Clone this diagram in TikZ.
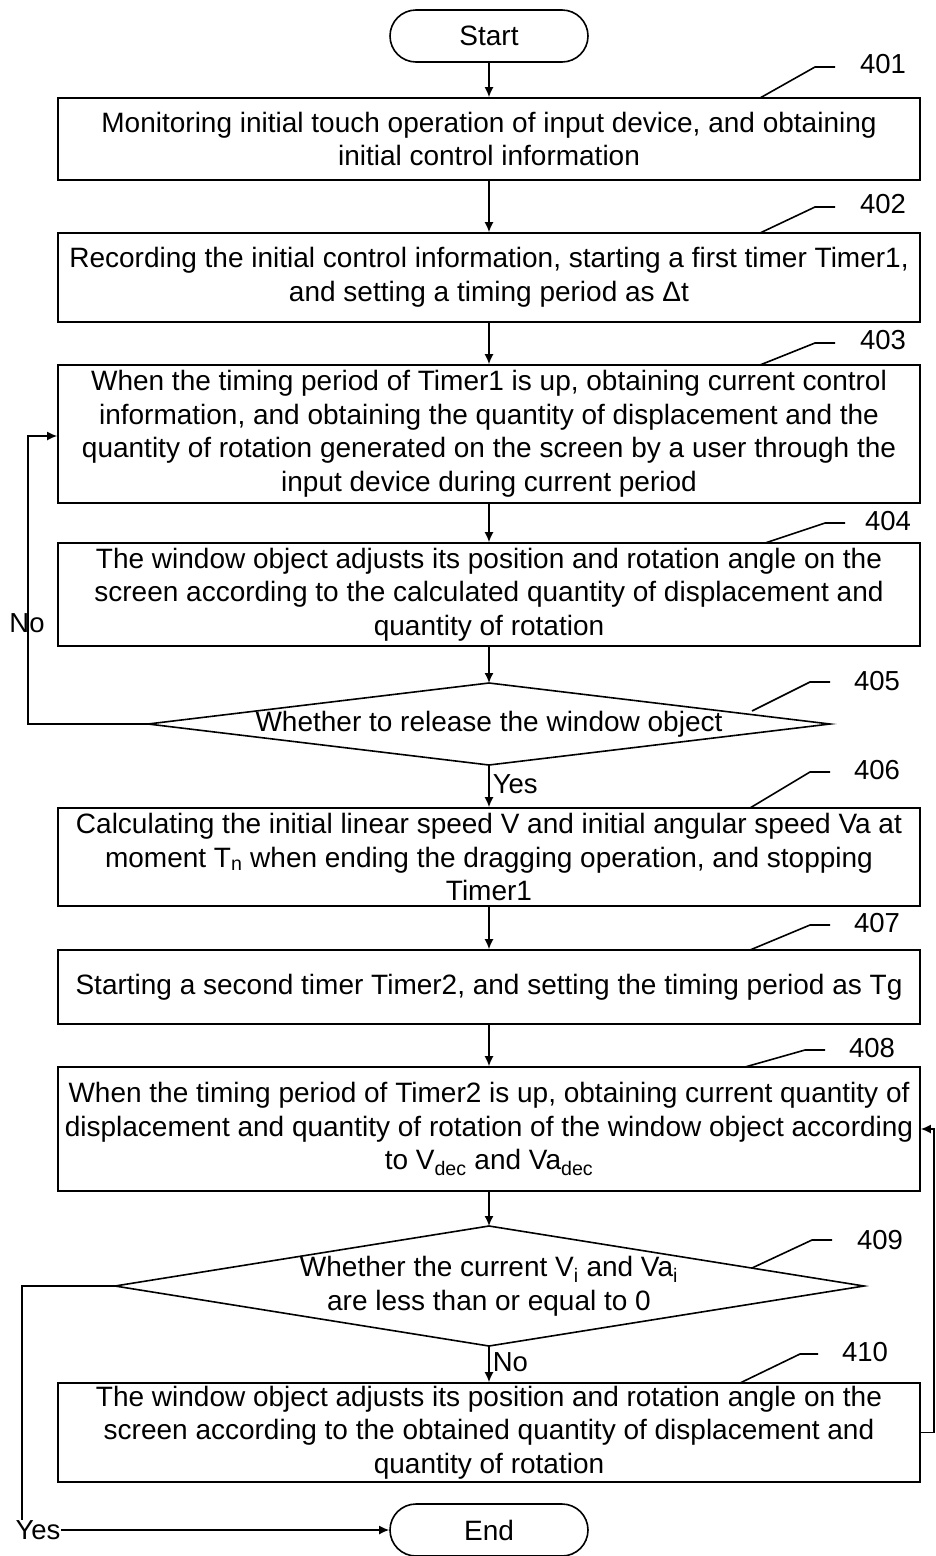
\documentclass[tikz,border=0pt]{standalone}
\usepackage{fontspec}
\setmainfont{Liberation Sans}
\usetikzlibrary{arrows.meta}
\begin{document}
\begin{tikzpicture}[x=1pt,y=-1pt,
  line width=1.6pt,
  txt/.style={font=\fontsize{28}{33.5}\selectfont, align=center, inner sep=0pt},
  box/.style={txt, draw, minimum width=862pt},
  term/.style={txt, draw, rounded corners=26pt, minimum width=198pt, minimum height=52pt},
  lbl/.style={font=\fontsize{27.5}{30}\selectfont, inner sep=0pt},
  arr/.style={-{Latex[length=10pt,width=9pt]}},
  lead/.style={line width=1.6pt}]
\useasboundingbox (0,0) rectangle (935,1556);

\node[term] (start) at (489,36) {Start};
\node[box, minimum height=82pt] (b401) at (489,139) {Monitoring initial touch operation of input device, and obtaining\\initial control information};
\node[box, minimum height=89pt] (b402) at (489,277.5) {Recording the initial control information, starting a first timer Timer1,\\and setting a timing period as Δt};
\node[box, minimum height=138pt] (b403) at (489,434) {When the timing period of Timer1 is up, obtaining current control\\information, and obtaining the quantity of displacement and the\\quantity of rotation generated on the screen by a user through the\\input device during current period};
\node[box, minimum height=103pt] (b404) at (489,594.5) {The window object adjusts its position and rotation angle on the\\screen according to the calculated quantity of displacement and\\quantity of rotation};

% diamond 405
\coordinate (d405n) at (489,683);
\coordinate (d405e) at (830,724);
\coordinate (d405s) at (489,765);
\coordinate (d405w) at (148,724);
\draw (d405n) -- (d405e) -- (d405s) -- (d405w) -- cycle;
\node[txt] (t405) at (489,724) {Whether to release the window object};

\node[box, minimum height=98pt] (b406) at (489,857) {Calculating the initial linear speed V and initial angular speed Va at\\moment T\textsubscript{n} when ending the dragging operation, and stopping\\Timer1};
\node[box, minimum height=74pt] (b407) at (489,987) {Starting a second timer Timer2, and setting the timing period as Tg};
\node[box, minimum height=124pt] (b408) at (489,1129) {When the timing period of Timer2 is up, obtaining current quantity of\\displacement and quantity of rotation of the window object according\\to V\textsubscript{dec} and Va\textsubscript{dec}};

% diamond 409
\coordinate (d409n) at (489,1226);
\coordinate (d409e) at (864,1286);
\coordinate (d409s) at (489,1346);
\coordinate (d409w) at (115,1286);
\draw (d409n) -- (d409e) -- (d409s) -- (d409w) -- cycle;
\node[txt] (t409) at (489,1286) {Whether the current V\textsubscript{i} and Va\textsubscript{i}\\are less than or equal to 0};

\node[box, minimum height=99pt] (b410) at (489,1432.5) {The window object adjusts its position and rotation angle on the\\screen according to the obtained quantity of displacement and\\quantity of rotation};
\node[term] (end) at (489,1530) {End};

% main flow
\draw[arr] (start) -- (b401);
\draw[arr] (b401) -- (b402);
\draw[arr] (b402) -- (b403);
\draw[arr] (b403) -- (b404);
\draw[arr] (b404) -- (d405n);
\draw[arr] (d405s) -- node[lbl, right=3pt, pos=0.45] (yes405) {Yes} (b406);
\draw[arr] (b406) -- (b407);
\draw[arr] (b407) -- (b408);
\draw[arr] (b408) -- (d409n);
\draw[arr] (d409s) -- node[lbl, right=3pt, pos=0.45] (no409) {No} (b410);

% No loop
\node[lbl] (no405) at (27,623) {No};
\coordinate (c405a) at (28,724);
\coordinate (c405b) at (28,436);
\draw[arr] (d405w) -- (c405a) -- (c405b) -- (b403.west |- c405b);

% Yes loop
\node[lbl] (yes409) at (38,1530) {Yes};
\coordinate (c409a) at (22,1286);
\draw (d409w) -- (c409a) -- (c409a |- yes409.north);
\draw[arr] (yes409.east) -- (end.west);

% right loop
\coordinate (c410a) at (934,1432.5);
\coordinate (c410b) at (934,1129);
\draw[arr] (b410.east) -- (c410a) -- (c410b) -- (b408.east);

% reference labels
\node[lbl] (l401) at (883,64) {401};
\draw[lead] (760,98) -- (815,67) -- (835,67);
\node[lbl] (l402) at (883,204) {402};
\draw[lead] (760,233) -- (815,207) -- (835,207);
\node[lbl] (l403) at (883,340) {403};
\draw[lead] (760,365) -- (815,343) -- (835,343);
\node[lbl] (l404) at (888,521) {404};
\draw[lead] (765,543) -- (825,523) -- (845,523);
\node[lbl] (l405) at (877,681) {405};
\draw[lead] (752,711) -- (810,682) -- (830,682);
\node[lbl] (l406) at (877,770) {406};
\draw[lead] (750,808) -- (810,772) -- (830,772);
\node[lbl] (l407) at (877,923) {407};
\draw[lead] (750,950) -- (810,925) -- (830,925);
\node[lbl] (l408) at (872,1048) {408};
\draw[lead] (745,1067) -- (805,1050) -- (825,1050);
\node[lbl] (l409) at (880,1240) {409};
\draw[lead] (752,1268) -- (812,1240) -- (832,1240);
\node[lbl] (l410) at (865,1352) {410};
\draw[lead] (740,1383) -- (800,1354) -- (818,1354);
\end{tikzpicture}
\end{document}
